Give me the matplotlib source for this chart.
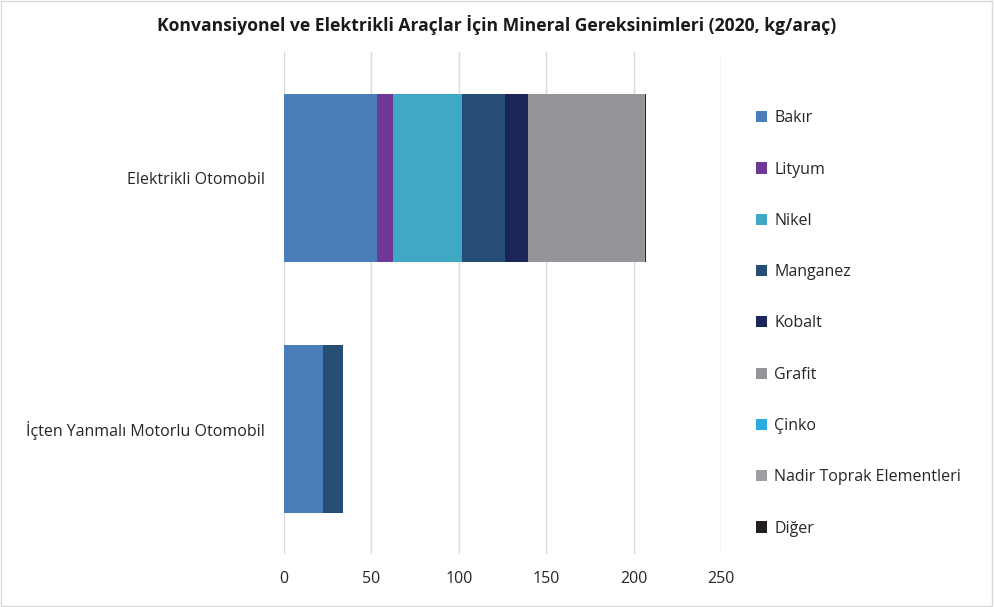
import numpy as np
import matplotlib.pyplot as plt
from matplotlib.patches import Patch

# Kategoriler (yukaridan asagiya)
categories = ['Elektrikli Otomobil', 'İçten Yanmalı Motorlu Otomobil']
minerals = ['Bakır', 'Lityum', 'Nikel', 'Manganez', 'Kobalt', 'Grafit',
            'Çinko', 'Nadir Toprak Elementleri', 'Diğer']
colors = ['#4a7ebb', '#6f3894', '#3fa9c5', '#264d74', '#1c255a', '#939598',
          '#29abe2', '#9d9fa2', '#231f20']

# kg/arac, her mineral icin [elektrikli, icten yanmali]
bakir = [53.2, 22.3]
lityum = [8.9, 0.0]
nikel = [39.9, 0.0]
manganez = [24.5, 11.2]
kobalt = [13.3, 0.0]
grafit = [66.3, 0.0]
cinko = [0.1, 0.1]
nadir = [0.5, 0.0]
diger = [0.3, 0.2]
values = [bakir, lityum, nikel, manganez, kobalt, grafit, cinko, nadir, diger]

plt.rcParams['font.family'] = ['Open Sans', 'DejaVu Sans']

fig = plt.figure(figsize=(9.94, 6.07), dpi=100)
ax = fig.add_axes([0.2857, 0.087, 0.7254 - 0.2857, 0.827])

y = np.arange(len(categories))
left = np.zeros(len(categories))
for name, vals, c in zip(minerals, values, colors):
    vals = np.array(vals)
    ax.barh(y, vals, left=left, height=0.67, color=c, label=name, zorder=3)
    left += vals

ax.set_xlim(0, 250)
ax.set_xticks(np.arange(0, 251, 50))
ax.set_ylim(len(categories) - 0.5, -0.5)
ax.set_yticks(y)
ax.set_yticklabels(categories)
ax.tick_params(axis='both', length=0, labelsize=11.5, colors='#262626')
ax.tick_params(axis='y', pad=14)
ax.tick_params(axis='x', pad=12)
ax.grid(axis='x', color='#d9d9d9', linewidth=1, zorder=0)
for s in ax.spines.values():
    s.set_visible(False)

fig.suptitle('Konvansiyonel ve Elektrikli Araçlar İçin Mineral Gereksinimleri (2020, kg/araç)',
             fontsize=12.6, fontweight='bold', color='#1a1a1a', y=0.975)

handles = [Patch(facecolor=c, label=m) for m, c in zip(minerals, colors)]
fig.legend(handles=handles, loc='upper left', bbox_to_anchor=(0.746, 0.842),
           frameon=False, fontsize=11.5, handlelength=0.7, handleheight=0.7,
           handletextpad=0.45, labelspacing=2.21, labelcolor='#262626')

fig.patches.append(plt.Rectangle((0.001, 0.001), 0.997, 0.997, transform=fig.transFigure,
                                 fill=False, edgecolor='#d9d9d9', linewidth=1))

fig.savefig('out.png', dpi=100, facecolor='white')
